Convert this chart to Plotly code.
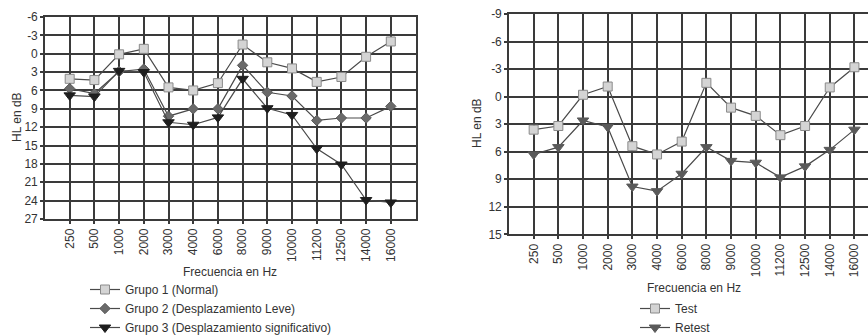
import plotly.graph_objects as go

freqs = ["250", "500", "1000", "2000", "3000", "4000", "6000", "8000",
         "9000", "10000", "11200", "12500", "14000", "16000"]

grupo1 = [4.1, 4.3, 0.1, -0.8, 5.5, 6.0, 4.8, -1.5, 1.4, 2.4, 4.6, 3.8, 0.5, -2.0]
grupo2 = [5.7, 6.5, 2.9, 2.5, 10.2, 9.0, 9.0, 1.9, 6.3, 6.9, 10.9, 10.5, 10.5, 8.6]
grupo3 = [6.8, 7.0, 2.8, 3.0, 11.2, 11.6, 10.4, 4.1, 8.9, 10.0, 15.5, 18.1, 23.9, 24.3]

test = [3.6, 3.2, -0.2, -1.1, 5.4, 6.3, 4.9, -1.5, 1.2, 2.1, 4.2, 3.2, -1.0, -3.2]
retest = [6.3, 5.5, 2.6, 3.3, 9.8, 10.3, 8.4, 5.5, 7.0, 7.2, 8.8, 7.6, 5.8, 3.6]

left_yticks = list(range(-6, 28, 3))
right_yticks = list(range(-9, 16, 3))
left_ylabels = [str(v) for v in left_yticks]
right_ylabels = [str(v) for v in right_yticks]

xpos = list(range(1, len(freqs) + 1))

FONT = "Liberation Sans, Arial, sans-serif"
TXT = "#333333"
GRID = "#3a3a3a"
LINE = "#4a4a4a"

fig = go.Figure()

def add(x, y, name, symbol, fill, edge, xa, ya, legend, size):
    fig.add_trace(go.Scatter(
        x=x, y=y, name=name, mode="lines+markers",
        line=dict(color=LINE, width=1.2),
        marker=dict(symbol=symbol, size=size, color=fill,
                    line=dict(color=edge, width=1)),
        xaxis=xa, yaxis=ya, legend=legend))

add(xpos, grupo1, "Grupo 1 (Normal)", "square", "#d4d4d4", "#8a8a8a", "x", "y", "legend", 9)
add(xpos, grupo2, "Grupo 2 (Desplazamiento Leve)", "diamond", "#6a6a6a", "#5a5a5a", "x", "y", "legend", 8)
add(xpos, grupo3, "Grupo 3 (Desplazamiento significativo)", "triangle-down", "#1e1e1e", "#1e1e1e", "x", "y", "legend", 10)

add(xpos, test, "Test", "square", "#d4d4d4", "#8a8a8a", "x2", "y2", "legend2", 9)
add(xpos, retest, "Retest", "triangle-down", "#5a5a5a", "#5a5a5a", "x2", "y2", "legend2", 10)

axis_common = dict(showgrid=True, gridcolor=GRID, gridwidth=1.6,
                   showline=True, linecolor=GRID, linewidth=1.6,
                   ticks="outside", ticklen=3, tickcolor=GRID, tickwidth=1.6,
                   zeroline=False, automargin=False,
                   tickfont=dict(family=FONT, size=12, color=TXT))

W, H = 868, 335

fig.update_layout(
    width=W, height=H,
    margin=dict(l=0, r=0, t=0, b=0, autoexpand=False),
    paper_bgcolor="white", plot_bgcolor="white",
    font=dict(family=FONT, size=12, color=TXT),
    xaxis=dict(domain=[45 / W, 415.5 / W], range=[0, 15],
               tickvals=xpos, ticktext=freqs, tickangle=-90,
               mirror=True, anchor="y", **axis_common),
    yaxis=dict(domain=[1 - 219 / H, 1 - 17 / H], range=[27, -6],
               tickvals=left_yticks, ticktext=left_ylabels,
               mirror=True, anchor="x", **axis_common),
    xaxis2=dict(domain=[509 / W, 1.0], range=[0, 14.55],
                tickvals=xpos, ticktext=freqs, tickangle=-90,
                mirror=True, anchor="y2", **axis_common),
    yaxis2=dict(domain=[1 - 234.3 / H, 1 - 14 / H], range=[15, -9],
                tickvals=right_yticks, ticktext=right_ylabels,
                mirror=False, anchor="x2", **axis_common),
    legend=dict(x=85 / W, y=1 - 275 / H, xanchor="left", yanchor="top",
                bgcolor="rgba(0,0,0,0)", font=dict(family=FONT, size=12, color=TXT),
                itemwidth=30, tracegroupgap=0),
    legend2=dict(x=635 / W, y=1 - 294 / H, xanchor="left", yanchor="top",
                 bgcolor="rgba(0,0,0,0)", font=dict(family=FONT, size=12, color=TXT),
                 itemwidth=30, tracegroupgap=0),
    annotations=[
        dict(text="HL en dB", x=17 / W, y=1 - 117 / H, xref="paper", yref="paper",
             xanchor="center", yanchor="middle",
             textangle=-90, showarrow=False, font=dict(family=FONT, size=12, color=TXT)),
        dict(text="Frecuencia en Hz", x=230 / W, y=1 - 272 / H, xref="paper", yref="paper",
             xanchor="center", yanchor="middle",
             showarrow=False, font=dict(family=FONT, size=12, color=TXT)),
        dict(text="HL en dB", x=477 / W, y=1 - 123 / H, xref="paper", yref="paper",
             xanchor="center", yanchor="middle",
             textangle=-90, showarrow=False, font=dict(family=FONT, size=12, color=TXT)),
        dict(text="Frecuencia en Hz", x=694 / W, y=1 - 288 / H, xref="paper", yref="paper",
             xanchor="center", yanchor="middle",
             showarrow=False, font=dict(family=FONT, size=12, color=TXT)),
    ],
)

fig.write_html(
    "out.html",
    config={"displayModeBar": False},
    post_script="document.body.style.margin='0';document.body.style.padding='0';",
)
